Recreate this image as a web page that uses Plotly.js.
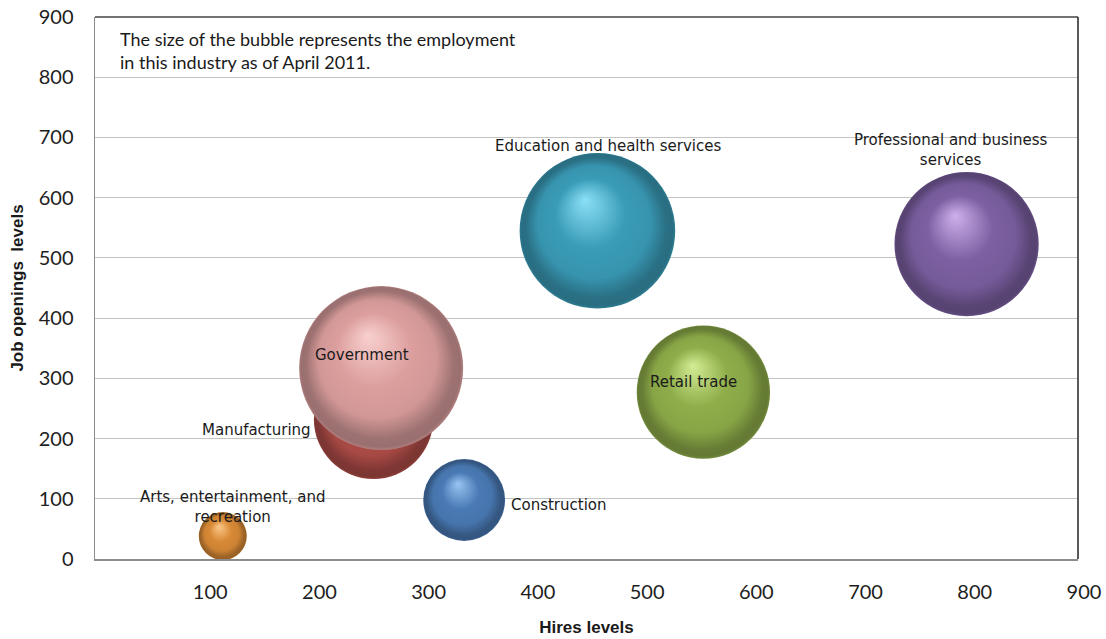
<!DOCTYPE html>
<html><head><meta charset="utf-8">
<script src="https://cdn.plot.ly/plotly-3.0.1.min.js"></script>
<style>html,body{margin:0;padding:0;background:#fff}#chart{width:1106px;height:639px}</style>
</head><body><div id="chart"></div>
<script>
// ---- data ----
const industries = ["Arts, entertainment, and recreation", "Construction", "Manufacturing", "Government",
                    "Education and health services", "Retail trade", "Professional and business services"];
const labelTexts = ["Arts, entertainment, and<br>recreation", "Construction", "Manufacturing", "Government",
                    "Education and health services", "Retail trade", "Professional and business<br>services"];
const hiresLevels = [117, 338, 255, 262, 460, 557, 798];
const jobOpenings = [38, 98, 232, 317, 545, 277, 523];
const employmentMillions = [1.9, 5.5, 11.7, 22.1, 19.9, 14.6, 17.1];
const xTickVals = [100, 200, 300, 400, 500, 600, 700, 800, 900];
const yTickVals = [0, 100, 200, 300, 400, 500, 600, 700, 800, 900];
const noteText = "The size of the bubble represents the employment<br>in this industry as of April 2011.";

// ---- styles ----
const midColors = ['#d88a36', '#4a7ab5', '#b04d48', '#dc9f9e', '#3a9cb8', '#8fae4a', '#7c60a2'];
const hiColors  = ['#fbc888', '#98c4f2', '#e29692', '#f8d0cf', '#8ae0f6', '#d4ec94', '#cfb0ec'];
const labelAnchor = ['center', 'left', 'right', 'center', 'center', 'center', 'center'];
const labelShiftX = [10, 45, -61, -19, 11, -10, -16];
const labelShiftY = [29, -5, -11, 13, 85, 10, 94];

const txtFont = {family: 'DejaVu Sans', size: 15, color: '#1a1a1a'};

const trace = {
  type: 'scatter', mode: 'markers',
  x: hiresLevels, y: jobOpenings, text: industries,
  hoverinfo: 'none',
  marker: {
    size: employmentMillions, sizemode: 'area', sizeref: 22.1 / (2 * 82 * 82),
    color: midColors, opacity: 1, line: {width: 0},
    gradient: {type: 'radial', color: hiColors}
  }
};

const annotations = industries.map((n, i) => ({
  x: hiresLevels[i], y: jobOpenings[i], xref: 'x', yref: 'y',
  text: labelTexts[i], showarrow: false, xanchor: labelAnchor[i], yanchor: 'middle',
  xshift: labelShiftX[i], yshift: labelShiftY[i], font: txtFont, align: 'center'
}));
annotations.push({
  x: 0.023, y: 0.984, xref: 'paper', yref: 'paper', xanchor: 'left', yanchor: 'top',
  text: noteText, showarrow: false, align: 'left',
  font: {family: 'Lato', size: 18, color: '#1a1a1a'}
});

const layout = {
  width: 1106, height: 639,
  margin: {l: 95, r: 28, t: 17, b: 80},
  paper_bgcolor: '#fff', plot_bgcolor: '#fff',
  showlegend: false,
  xaxis: {
    range: [0, 900], tickvals: xTickVals, ticks: '', showgrid: false, zeroline: false,
    showline: true, linecolor: '#8c8c8c', linewidth: 1.5,
    tickfont: {family: 'Lato', size: 20, color: '#1e1e1e'}, ticklabelstandoff: 14, ticklabelshift: 6,
    title: {text: 'Hires levels', font: {family: 'Liberation Sans', size: 17, color: '#1a1a1a', weight: 'bold'}, standoff: 19}
  },
  yaxis: {
    range: [0, 900], tickvals: yTickVals, ticks: '', showgrid: true, gridcolor: '#c4c4c4', gridwidth: 1,
    zeroline: false, showline: true, linecolor: '#8c8c8c', linewidth: 1.5,
    tickfont: {family: 'Lato', size: 20, color: '#1e1e1e'}, ticklabelstandoff: 16,
    title: {text: 'Job openings  levels', font: {family: 'Liberation Sans', size: 17, color: '#1a1a1a', weight: 'bold'}, standoff: 10}
  },
  shapes: [
    {type: 'line', xref: 'paper', yref: 'paper', x0: 0, x1: 1, y0: 1, y1: 1, line: {color: '#444', width: 1.5}},
    {type: 'line', xref: 'paper', yref: 'paper', x0: 1, x1: 1, y0: 0, y1: 1, line: {color: '#222', width: 1.5}}
  ],
  annotations: annotations
};

function parseColor(c) {
  c = (c || '').trim();
  let m = c.match(/rgba?\(([^)]+)\)/);
  if (m) { const p = m[1].split(',').map(Number); return [p[0], p[1], p[2]]; }
  if (c[0] === '#') {
    if (c.length === 4) c = '#' + c[1] + c[1] + c[2] + c[2] + c[3] + c[3];
    return [parseInt(c.substr(1, 2), 16), parseInt(c.substr(3, 2), 16), parseInt(c.substr(5, 2), 16)];
  }
  return [128, 128, 128];
}
function scale(rgb, f) { return 'rgb(' + rgb.map(v => Math.round(Math.min(255, v * f))).join(',') + ')'; }

function shadeBubbles(gd) {
  const ns = 'http://www.w3.org/2000/svg';
  gd.querySelectorAll('radialGradient').forEach(g => {
    if (g.getAttribute('data-shaded')) return;
    g.setAttribute('data-shaded', '1');
    g.setAttribute('cx', '50%'); g.setAttribute('cy', '50%'); g.setAttribute('r', '50%');
    g.setAttribute('fx', '42%'); g.setAttribute('fy', '30%');
    const stops = g.querySelectorAll('stop');
    if (stops.length < 2) return;
    const last = stops[stops.length - 1];
    const mid = parseColor(last.getAttribute('stop-color') || last.style.stopColor);
    last.setAttribute('offset', '45%');
    const add = (off, col) => {
      const s = document.createElementNS(ns, 'stop');
      s.setAttribute('offset', off); s.setAttribute('stop-color', col); s.setAttribute('stop-opacity', '1');
      g.appendChild(s);
    };
    add('72%', scale(mid, 0.95));
    add('90%', scale(mid, 0.72));
    add('97%', scale(mid, 0.7));
    add('100%', scale(mid, 0.8));
  });
}

Plotly.newPlot('chart', [trace], layout, {staticPlot: true, displayModeBar: false}).then(gd => {
  shadeBubbles(gd);
  gd.on('plotly_afterplot', () => shadeBubbles(gd));
});
</script>
</body></html>
